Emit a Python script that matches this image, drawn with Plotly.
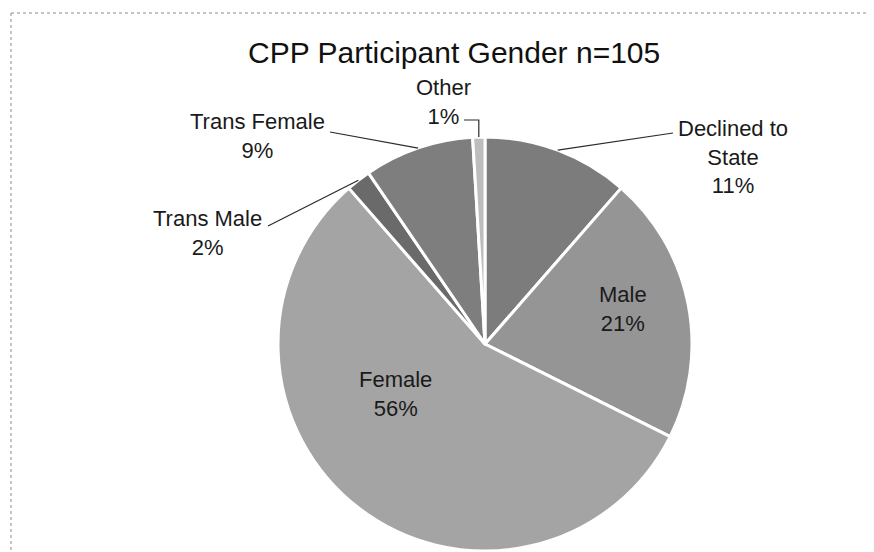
import math
import plotly.graph_objects as go

# ---- data ----
labels = ["Declined to State", "Male", "Female", "Trans Male", "Trans Female", "Other"]
counts = [12, 22, 59, 2, 9, 1]
colors = ["#7c7c7c", "#959595", "#a4a4a4", "#6a6a6a", "#7e7e7e", "#bdbdbd"]
title_text = "CPP Participant Gender n=105"

W, H = 874, 552
CX, CY, R = 477, 336, 207  # pie centre / radius in px


def px(x):
    return x / W


def py(y):
    return 1 - y / H


total = sum(counts)
pcts = [round(c / total * 100) for c in counts]

# mid angle of each slice (clockwise from 12 o'clock), from the data
mids = []
cum = 0
for c in counts:
    mids.append((cum + c / 2) / total * 2 * math.pi)
    cum += c


def rim(i, k=1.0):
    a = mids[i]
    return CX + R * k * math.sin(a), CY - R * k * math.cos(a)


fig = go.Figure(go.Pie(
    labels=labels,
    values=counts,
    sort=False,
    direction="clockwise",
    rotation=0,
    textinfo="none",
    hoverinfo="label+percent",
    marker=dict(colors=colors, line=dict(color="white", width=3)),
    domain=dict(x=[px(CX - R), px(CX + R)], y=[py(CY + R), py(CY - R)]),
    showlegend=False,
))

font = dict(family="Liberation Sans, Arial, sans-serif", size=22, color="#1a1a1a")

# label text blocks: (index, centre x, centre y, text)
label_pos = {
    0: (725, 149, "Declined to<br>State<br>%d%%" % pcts[0]),
    1: (615, 301, "Male<br>%d%%" % pcts[1]),
    2: (387, 386, "Female<br>%d%%" % pcts[2]),
    3: (199, 225, "Trans Male<br>%d%%" % pcts[3]),
    4: (249, 128, "Trans Female<br>%d%%" % pcts[4]),
    5: (435, 94, "Other<br>%d%%" % pcts[5]),
}
annotations = []
for i, (x, y, t) in label_pos.items():
    annotations.append(dict(x=px(x), y=py(y), xref="paper", yref="paper", text=t,
                            showarrow=False, xanchor="center", yanchor="middle",
                            font=font, align="center"))

annotations.append(dict(x=px(446), y=py(44), xref="paper", yref="paper", text=title_text,
                        showarrow=False, xanchor="center", yanchor="middle",
                        font=dict(family="Liberation Sans, Arial, sans-serif", size=30, color="#111")))

shapes = []
line_style = dict(color="#2a2a2a", width=1.2)
# leader lines from text to the rim at the slice mid-angle
starts = {0: (665, 125), 4: (322, 124), 3: (260, 218)}
for i, (sx, sy) in starts.items():
    ex, ey = rim(i)
    shapes.append(dict(type="line", xref="paper", yref="paper",
                       x0=px(sx), y0=py(sy), x1=px(ex), y1=py(ey), line=line_style))
# Other: small bracket
ox, oy = rim(5)
shapes.append(dict(type="path", xref="paper", yref="paper",
                   path="M %f,%f L %f,%f L %f,%f" % (px(456), py(112), px(ox), py(112), px(ox), py(oy)),
                   line=line_style))

# dotted frame (top, left, bottom)
frame = dict(color="#8a8a8a", width=1, dash="dot")
shapes.append(dict(type="line", xref="paper", yref="paper", x0=px(3), y0=py(5), x1=px(874), y1=py(5), line=frame))
shapes.append(dict(type="line", xref="paper", yref="paper", x0=px(3), y0=py(5), x1=px(3), y1=py(549), line=frame))
shapes.append(dict(type="line", xref="paper", yref="paper", x0=px(3), y0=py(549), x1=px(874), y1=py(549), line=frame))

fig.update_layout(
    width=W, height=H,
    margin=dict(l=0, r=0, t=0, b=0),
    paper_bgcolor="white", plot_bgcolor="white",
    annotations=annotations, shapes=shapes,
)

fig.write_html("out.html")
